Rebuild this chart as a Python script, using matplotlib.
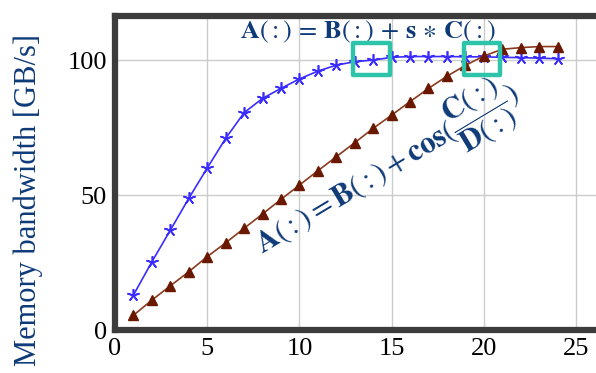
import matplotlib
matplotlib.use("Agg")
import matplotlib.pyplot as plt
from matplotlib.patches import Rectangle

x = list(range(1, 25))
blue_vals = [13, 25.3, 37, 48.8, 60, 71, 80.5, 85.8, 89.5, 93, 95.9, 98.1,
             99.4, 100, 101, 101.3, 101.3, 101.3, 101.2, 101.2, 101, 100.9, 100.7, 100.5]
brown_vals = [5.5, 11.1, 16.4, 21.6, 27.2, 32.3, 37.7, 43, 48.4, 53.7, 59, 64.2,
              69.4, 74.7, 79.6, 84.6, 89.5, 94, 98, 101.5, 104, 104.6, 105, 105]
xticks = [0, 5, 10, 15, 20, 25]
yticks = [0, 50, 100]
ylabel = "Memory bandwidth [GB/s]"
title_text = r"$\mathbf{A}(:)\,=\,\mathbf{B}(:)\,+\,\mathbf{s}\,\ast\,\mathbf{C}(:)$"
rot_text = r"$\mathbf{A}(:) = \mathbf{B}(:) + \mathbf{cos}(\dfrac{\mathbf{C}(:)}{\mathbf{D}(:)})$"
highlights = [(12.9, 94.4, 2.0, 11.9), (18.9, 94.4, 2.0, 11.9)]

plt.rcParams["mathtext.fontset"] = "stix"
plt.rcParams["font.family"] = ["Liberation Serif", "DejaVu Serif"]

navy = "#0e3a78"
fig = plt.figure(figsize=(5.96, 3.73), dpi=100)
ax = fig.add_axes([0.193, 0.115, 1.019 - 0.193, 0.957 - 0.115])
ax.set_xlim(0, 26.7)
ax.set_ylim(0, 116.3)

ax.grid(True, color="#cccccc", linewidth=1.0)
ax.set_axisbelow(True)
ax.set_xticks(xticks)
ax.set_yticks(yticks)
ax.tick_params(length=0, labelsize=19, pad=6)

ax.plot(x, blue_vals, color="#3a2cff", linewidth=1.2, marker=(5, 2, 0),
        markersize=9, markeredgewidth=1.2, zorder=3)
ax.plot(x, brown_vals, color="#8b3a1e", linewidth=1.2, marker="^",
        markersize=7, markerfacecolor="#6a1800", markeredgecolor="#6a1800", zorder=3)

for s in ax.spines.values():
    s.set_color("#3c3c3c")
    s.set_linewidth(4.5)

ax.set_ylabel(ylabel, fontsize=22, color=navy)
ax.yaxis.set_label_coords(-0.146, 0.415)

ax.text(13.7, 110.5, title_text, fontsize=19, color=navy, ha="center", va="center")
ax.text(8.0, 28.1, rot_text, fontsize=22, color=navy, ha="left", va="baseline",
        rotation=31, rotation_mode="anchor")

for (hx, hy, hw, hh) in highlights:
    ax.add_patch(Rectangle((hx, hy), hw, hh, fill=False, edgecolor="#2ec4aa",
                           linewidth=3.2, joinstyle="round", zorder=5))

fig.savefig("out.png", dpi=100)
